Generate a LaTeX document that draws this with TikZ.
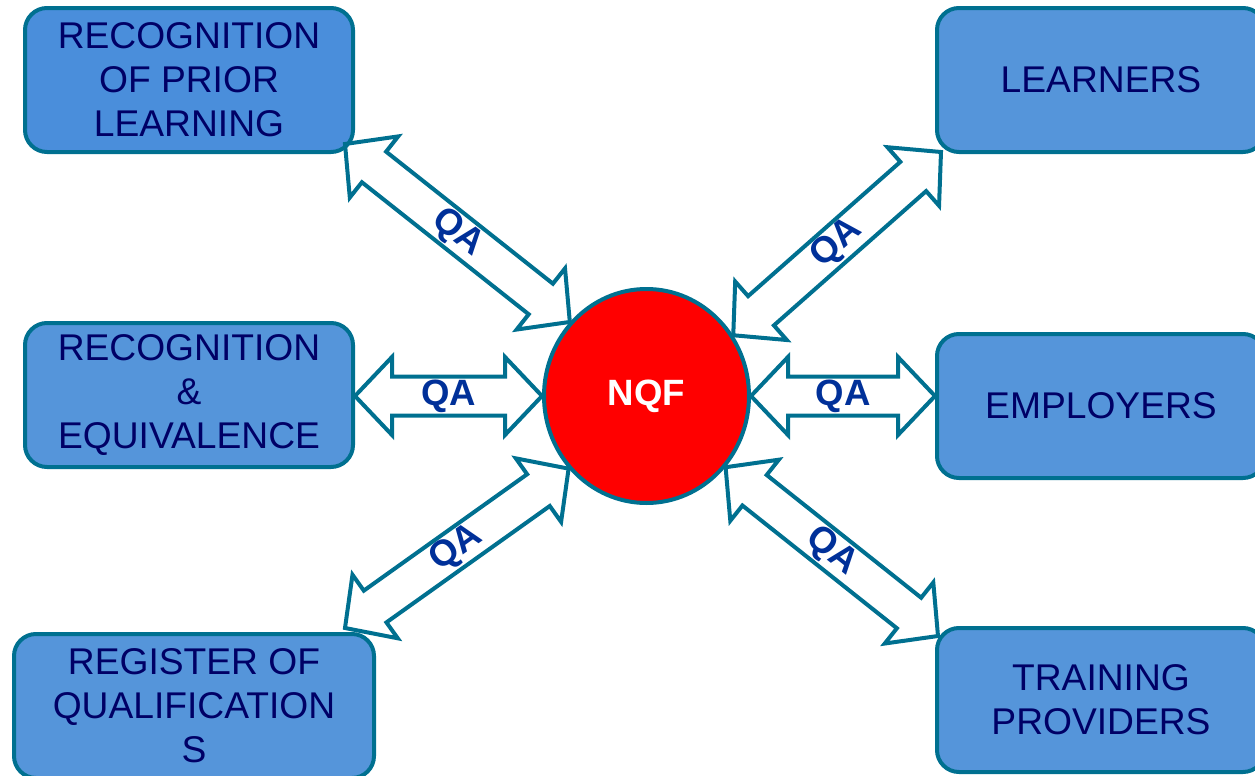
\documentclass[tikz,border=0pt]{standalone}
\usepackage{fontspec}
\setmainfont{Liberation Sans}
\usepackage{tikz}
\usepackage{xcolor}
\usetikzlibrary{calc,shapes.geometric}

\definecolor{boxblue}{RGB}{85,149,218}
\definecolor{rplblue}{RGB}{74,142,219}
\definecolor{edgeteal}{RGB}{0,112,144}
\definecolor{navy}{RGB}{0,0,102}
\definecolor{qablue}{RGB}{0,48,153}

% block arrow with two heads between two points
\newcommand{\qaarrow}[2]{%
  \draw[qa arrow] (#1)
    -- ($(#1)!18.5pt!(#2)!19.5pt!90:(#2)$) -- ($(#1)!18.5pt!(#2)!9.75pt!90:(#2)$)
    -- ($(#2)!18.5pt!(#1)!9.75pt!-90:(#1)$) -- ($(#2)!18.5pt!(#1)!19.5pt!-90:(#1)$)
    -- (#2)
    -- ($(#2)!18.5pt!(#1)!19.5pt!90:(#1)$) -- ($(#2)!18.5pt!(#1)!9.75pt!90:(#1)$)
    -- ($(#1)!18.5pt!(#2)!9.75pt!-90:(#2)$) -- ($(#1)!18.5pt!(#2)!19.5pt!-90:(#2)$)
    -- cycle;
  \path (#1) -- (#2) node[qa text,midway,sloped]{QA};}

\begin{document}
\begin{tikzpicture}%
  [x=0.5pt,y=-0.5pt,
   box node/.style={rectangle,rounded corners=11pt,draw=edgeteal,line width=2pt,
     fill=boxblue,text=navy,align=center,inner sep=0pt,
     minimum width=164pt,minimum height=72pt,
     font=\fontsize{18.6}{22}\selectfont}]
  \tikzstyle{qa arrow}=[draw=edgeteal,line width=2pt,line join=miter]
  \tikzstyle{qa text}=[text=qablue,font=\fontsize{18.3}{22}\selectfont\bfseries,inner sep=0pt]
  \useasboundingbox (0,0) rectangle (1255,776);
  \clip (0,0) rectangle (1255,776);
  % boxes
  \node(rpl)[box node,fill=rplblue] at (189,80) {RECOGNITION\\OF PRIOR\\LEARNING};
  \node(req)[box node] at (189,395) {RECOGNITION\\\&\\EQUIVALENCE};
  \node(reg)[box node,minimum width=180pt] at (194,706) {REGISTER OF\\QUALIFICATION\\S};
  \node(lrn)[box node] at (1101,80) {LEARNERS};
  \node(emp)[box node] at (1101,406) {EMPLOYERS};
  \node(trn)[box node] at (1101,700) {TRAINING\\PROVIDERS};
  \node(nqf)[ellipse,draw=edgeteal,line width=2pt,fill=red,text=white,inner sep=0pt,
    minimum width=102.5pt,minimum height=107pt,
    font=\fontsize{18.3}{22}\selectfont\bfseries] at (646.5,396) {NQF};
  % arrow ends
  \coordinate (w1) at (req.east |- nqf);
  \coordinate (e1) at (emp.west |- nqf);
  \coordinate (t1) at ($(rpl.south east)+(-10,-10)$);
  \coordinate (t2) at ($(lrn.south west)+(6,-2)$);
  \coordinate (t3) at ($(reg.north east)+(-31,-4)$);
  \coordinate (t4) at ($(trn.north west)+(3,10)$);
  \qaarrow{t1}{nqf.136}
  \qaarrow{w1}{nqf.west}
  \qaarrow{t3}{nqf.223}
  \qaarrow{nqf.35}{t2}
  \qaarrow{nqf.east}{e1}
  \qaarrow{nqf.318}{t4}
\end{tikzpicture}
\end{document}
